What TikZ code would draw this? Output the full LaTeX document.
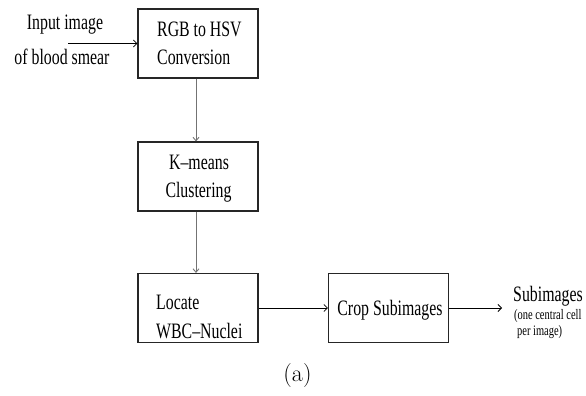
\documentclass[tikz,border=0pt]{standalone}
\usepackage{fontspec}
\newfontfamily\tms[FakeStretch=0.72]{Liberation Serif}
\usetikzlibrary{arrows.meta}
\begin{document}
\begin{tikzpicture}[x=1pt,y=-1pt,
  box/.style={draw=black!85,line width=1.1pt,minimum width=120pt,minimum height=69pt,inner sep=0pt},
  txt/.style={font=\tms\fontsize{22}{26}\selectfont,inner sep=0pt},
  small/.style={font=\tms\fontsize{14.5}{16}\selectfont,inner sep=0pt},
  harrow/.style={draw=black,line width=0.8pt,-{Straight Barb[length=3.5pt,width=7pt]}},
  varrow/.style={draw=black!55,line width=0.9pt,-{Straight Barb[length=3.5pt,width=6pt]}}]
\useasboundingbox (0,0) rectangle (586,396);
% boxes
\node[box] (b1) at (198,43.5) {};
\node[box] (b2) at (198,176.5) {};
\node[box] (b3) at (198,308) {};
\node[box] (b4) at (388.5,308) {};
% texts
\node[txt,anchor=base] (in1) at (65,30) {Input image};
\node[txt,anchor=base] (in2) at (62,64) {of blood smear};
\node[txt,anchor=base west] (t1a) at (157,37) {RGB to HSV};
\node[txt,anchor=base west] (t1b) at (157,64) {Conversion};
\node[txt,anchor=base] (t2a) at (199,169) {K–means};
\node[txt,anchor=base] (t2b) at (198.5,197) {Clustering};
\node[txt,anchor=base west] (t3a) at (156,309) {Locate};
\node[txt,anchor=base west] (t3b) at (156,338) {WBC–Nuclei};
\node[txt,anchor=base] (t4) at (390,315) {Crop Subimages};
\node[txt,anchor=base west] (o1) at (513,301) {Subimages};
\node[small,anchor=base west] (o2) at (514,319) {(one central cell};
\node[small,anchor=base west] (o3) at (517,335) {per image)};
\node[font=\rmfamily\fontsize{24}{28}\selectfont,inner sep=0pt,anchor=base] (cap) at (297.5,381) {(a)};
% connectors
\coordinate (inpt) at (68,43.5);
\coordinate (outpt) at (502,308);
\draw[harrow] (inpt) -- (b1.west);
\draw[varrow] ([xshift=-2pt]b1.south) -- ([xshift=-2pt]b2.north);
\draw[varrow] ([xshift=-2pt]b2.south) -- ([xshift=-2pt]b3.north);
\draw[harrow] (b3.east) -- (b4.west);
\draw[harrow] (b4.east) -- (outpt);
\end{tikzpicture}
\end{document}
